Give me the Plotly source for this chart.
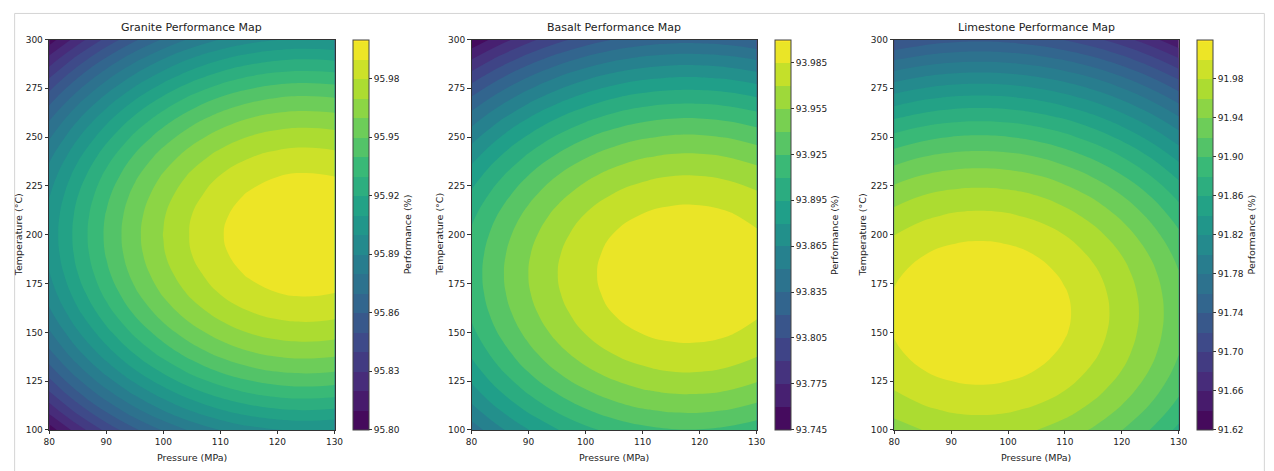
import plotly.graph_objects as go

# ---- data (grid samples of each map) ----
pressure = [80, 85, 90, 95, 100, 105, 110, 115, 120, 125, 130]          # MPa
temperature = [100, 110, 120, 130, 140, 150, 160, 170, 180, 190, 200,
               210, 220, 230, 240, 250, 260, 270, 280, 290, 300]         # degC

granite_z = [
    [95.8046, 95.8248, 95.8427, 95.8582, 95.8712, 95.8820, 95.8903, 95.8962, 95.8998, 95.9010, 95.8998],
    [95.8234, 95.8436, 95.8615, 95.8770, 95.8900, 95.9008, 95.9091, 95.9150, 95.9186, 95.9198, 95.9186],
    [95.8402, 95.8604, 95.8783, 95.8938, 95.9068, 95.9176, 95.9259, 95.9318, 95.9354, 95.9366, 95.9354],
    [95.8551, 95.8753, 95.8932, 95.9087, 95.9217, 95.9325, 95.9408, 95.9467, 95.9503, 95.9515, 95.9503],
    [95.8680, 95.8882, 95.9061, 95.9216, 95.9346, 95.9454, 95.9537, 95.9596, 95.9632, 95.9644, 95.9632],
    [95.8788, 95.8990, 95.9169, 95.9324, 95.9454, 95.9562, 95.9645, 95.9704, 95.9740, 95.9752, 95.9740],
    [95.8878, 95.9080, 95.9259, 95.9414, 95.9544, 95.9652, 95.9735, 95.9794, 95.9830, 95.9842, 95.9830],
    [95.8947, 95.9149, 95.9328, 95.9483, 95.9613, 95.9721, 95.9804, 95.9863, 95.9899, 95.9911, 95.9899],
    [95.8996, 95.9198, 95.9377, 95.9532, 95.9662, 95.9770, 95.9853, 95.9912, 95.9948, 95.9960, 95.9948],
    [95.9026, 95.9228, 95.9407, 95.9562, 95.9692, 95.9800, 95.9883, 95.9942, 95.9978, 95.9990, 95.9978],
    [95.9036, 95.9238, 95.9417, 95.9572, 95.9702, 95.9810, 95.9893, 95.9952, 95.9988, 95.9998, 95.9988],
    [95.9026, 95.9228, 95.9407, 95.9562, 95.9692, 95.9800, 95.9883, 95.9942, 95.9978, 95.9990, 95.9978],
    [95.8996, 95.9198, 95.9377, 95.9532, 95.9662, 95.9770, 95.9853, 95.9912, 95.9948, 95.9960, 95.9948],
    [95.8947, 95.9149, 95.9328, 95.9483, 95.9613, 95.9721, 95.9804, 95.9863, 95.9899, 95.9911, 95.9899],
    [95.8878, 95.9080, 95.9259, 95.9414, 95.9544, 95.9652, 95.9735, 95.9794, 95.9830, 95.9842, 95.9830],
    [95.8788, 95.8990, 95.9169, 95.9324, 95.9454, 95.9562, 95.9645, 95.9704, 95.9740, 95.9752, 95.9740],
    [95.8680, 95.8882, 95.9061, 95.9216, 95.9346, 95.9454, 95.9537, 95.9596, 95.9632, 95.9644, 95.9632],
    [95.8551, 95.8753, 95.8932, 95.9087, 95.9217, 95.9325, 95.9408, 95.9467, 95.9503, 95.9515, 95.9503],
    [95.8402, 95.8604, 95.8783, 95.8938, 95.9068, 95.9176, 95.9259, 95.9318, 95.9354, 95.9366, 95.9354],
    [95.8234, 95.8436, 95.8615, 95.8770, 95.8900, 95.9008, 95.9091, 95.9150, 95.9186, 95.9198, 95.9186],
    [95.8046, 95.8248, 95.8427, 95.8582, 95.8712, 95.8820, 95.8903, 95.8962, 95.8998, 95.9010, 95.8998],
]

basalt_z = [
    [93.8418, 93.8621, 93.8796, 93.8942, 93.9059, 93.9148, 93.9208, 93.9240, 93.9243, 93.9217, 93.9162],
    [93.8595, 93.8798, 93.8973, 93.9119, 93.9236, 93.9325, 93.9385, 93.9417, 93.9420, 93.9394, 93.9339],
    [93.8748, 93.8951, 93.9126, 93.9272, 93.9389, 93.9478, 93.9538, 93.9570, 93.9573, 93.9547, 93.9492],
    [93.8878, 93.9081, 93.9256, 93.9402, 93.9519, 93.9608, 93.9668, 93.9700, 93.9703, 93.9677, 93.9622],
    [93.8984, 93.9187, 93.9362, 93.9508, 93.9625, 93.9714, 93.9774, 93.9806, 93.9809, 93.9783, 93.9728],
    [93.9067, 93.9270, 93.9445, 93.9591, 93.9708, 93.9797, 93.9857, 93.9889, 93.9892, 93.9866, 93.9811],
    [93.9126, 93.9329, 93.9504, 93.9650, 93.9767, 93.9856, 93.9916, 93.9948, 93.9951, 93.9925, 93.9870],
    [93.9161, 93.9364, 93.9539, 93.9685, 93.9802, 93.9891, 93.9951, 93.9983, 93.9986, 93.9960, 93.9905],
    [93.9173, 93.9376, 93.9551, 93.9697, 93.9814, 93.9903, 93.9963, 93.9995, 93.9998, 93.9972, 93.9917],
    [93.9161, 93.9364, 93.9539, 93.9685, 93.9802, 93.9891, 93.9951, 93.9983, 93.9986, 93.9960, 93.9905],
    [93.9126, 93.9329, 93.9504, 93.9650, 93.9767, 93.9856, 93.9916, 93.9948, 93.9951, 93.9925, 93.9870],
    [93.9067, 93.9270, 93.9445, 93.9591, 93.9708, 93.9797, 93.9857, 93.9889, 93.9892, 93.9866, 93.9811],
    [93.8984, 93.9187, 93.9362, 93.9508, 93.9625, 93.9714, 93.9774, 93.9806, 93.9809, 93.9783, 93.9728],
    [93.8878, 93.9081, 93.9256, 93.9402, 93.9519, 93.9608, 93.9668, 93.9700, 93.9703, 93.9677, 93.9622],
    [93.8748, 93.8951, 93.9126, 93.9272, 93.9389, 93.9478, 93.9538, 93.9570, 93.9573, 93.9547, 93.9492],
    [93.8595, 93.8798, 93.8973, 93.9119, 93.9236, 93.9325, 93.9385, 93.9417, 93.9420, 93.9394, 93.9339],
    [93.8418, 93.8621, 93.8796, 93.8942, 93.9059, 93.9148, 93.9208, 93.9240, 93.9243, 93.9217, 93.9162],
    [93.8217, 93.8420, 93.8595, 93.8741, 93.8858, 93.8947, 93.9007, 93.9039, 93.9042, 93.9016, 93.8961],
    [93.7993, 93.8196, 93.8371, 93.8517, 93.8634, 93.8723, 93.8783, 93.8815, 93.8818, 93.8792, 93.8737],
    [93.7745, 93.7948, 93.8123, 93.8269, 93.8386, 93.8475, 93.8535, 93.8567, 93.8570, 93.8544, 93.8489],
    [93.7474, 93.7677, 93.7852, 93.7998, 93.8115, 93.8204, 93.8264, 93.8296, 93.8299, 93.8273, 93.8218],
]

limestone_z = [
    [91.9507, 91.9602, 91.9659, 91.9678, 91.9659, 91.9602, 91.9507, 91.9375, 91.9204, 91.8996, 91.8749],
    [91.9666, 91.9761, 91.9818, 91.9837, 91.9818, 91.9761, 91.9666, 91.9534, 91.9363, 91.9155, 91.8908],
    [91.9797, 91.9892, 91.9949, 91.9968, 91.9949, 91.9892, 91.9797, 91.9665, 91.9494, 91.9286, 91.9039],
    [91.9898, 91.9993, 92.0050, 92.0069, 92.0050, 91.9993, 91.9898, 91.9766, 91.9595, 91.9387, 91.9140],
    [91.9971, 92.0066, 92.0123, 92.0142, 92.0123, 92.0066, 91.9971, 91.9839, 91.9668, 91.9460, 91.9213],
    [92.0014, 92.0109, 92.0166, 92.0185, 92.0166, 92.0109, 92.0014, 91.9882, 91.9711, 91.9503, 91.9256],
    [92.0029, 92.0124, 92.0181, 92.0198, 92.0181, 92.0124, 92.0029, 91.9897, 91.9726, 91.9518, 91.9271],
    [92.0014, 92.0109, 92.0166, 92.0185, 92.0166, 92.0109, 92.0014, 91.9882, 91.9711, 91.9503, 91.9256],
    [91.9971, 92.0066, 92.0123, 92.0142, 92.0123, 92.0066, 91.9971, 91.9839, 91.9668, 91.9460, 91.9213],
    [91.9898, 91.9993, 92.0050, 92.0069, 92.0050, 91.9993, 91.9898, 91.9766, 91.9595, 91.9387, 91.9140],
    [91.9797, 91.9892, 91.9949, 91.9968, 91.9949, 91.9892, 91.9797, 91.9665, 91.9494, 91.9286, 91.9039],
    [91.9666, 91.9761, 91.9818, 91.9837, 91.9818, 91.9761, 91.9666, 91.9534, 91.9363, 91.9155, 91.8908],
    [91.9507, 91.9602, 91.9659, 91.9678, 91.9659, 91.9602, 91.9507, 91.9375, 91.9204, 91.8996, 91.8749],
    [91.9318, 91.9413, 91.9470, 91.9489, 91.9470, 91.9413, 91.9318, 91.9186, 91.9015, 91.8807, 91.8560],
    [91.9101, 91.9196, 91.9253, 91.9272, 91.9253, 91.9196, 91.9101, 91.8969, 91.8798, 91.8590, 91.8343],
    [91.8854, 91.8949, 91.9006, 91.9025, 91.9006, 91.8949, 91.8854, 91.8722, 91.8551, 91.8343, 91.8096],
    [91.8579, 91.8674, 91.8731, 91.8750, 91.8731, 91.8674, 91.8579, 91.8447, 91.8276, 91.8068, 91.7821],
    [91.8274, 91.8369, 91.8426, 91.8445, 91.8426, 91.8369, 91.8274, 91.8142, 91.7971, 91.7763, 91.7516],
    [91.7941, 91.8036, 91.8093, 91.8112, 91.8093, 91.8036, 91.7941, 91.7809, 91.7638, 91.7430, 91.7183],
    [91.7578, 91.7673, 91.7730, 91.7749, 91.7730, 91.7673, 91.7578, 91.7446, 91.7275, 91.7067, 91.6820],
    [91.7187, 91.7282, 91.7339, 91.7358, 91.7339, 91.7282, 91.7187, 91.7055, 91.6884, 91.6676, 91.6429],
]

titles = ["Granite Performance Map", "Basalt Performance Map", "Limestone Performance Map"]

# contour levels (start, end, step) as shown on the colour bars
granite_levels = [95.80, 96.00, 0.01]
basalt_levels = [93.745, 94.000, 0.015]
limestone_levels = [91.62, 92.02, 0.02]

granite_ticks = [95.80, 95.83, 95.86, 95.89, 95.92, 95.95, 95.98]
basalt_ticks = [93.745, 93.775, 93.805, 93.835, 93.865, 93.895, 93.925, 93.955, 93.985]
limestone_ticks = [91.62, 91.66, 91.70, 91.74, 91.78, 91.82, 91.86, 91.90, 91.94, 91.98]

x_ticks = [80, 90, 100, 110, 120, 130]
y_ticks = [100, 125, 150, 175, 200, 225, 250, 275, 300]

# ---- layout geometry ----
OFF = 8                       # page body margin
W, H = 1274 - OFF, 471 - OFF
S_X, S_Y = 0.988, 0.979       # compensation for the observed photo scaling
CX, CY = 637.0, 235.0
FONT = "DejaVu Sans"
plot_x = [(50.7, 336.0), (473.0, 758.0), (895.7, 1180.0)]
cbar_x = [354.0, 776.0, 1198.3]
cbar_label_x = [409.0, 836.5, 1253.0]
ylabel_x = [20.0, 441.5, 864.0]
plot_top, plot_bot = 39.3, 430.0


def px(x):
    wx = CX + (x - CX) / S_X
    return (wx - OFF) / W


def py(y):
    wy = CY + (y - CY) / S_Y
    return (H - (wy - OFF)) / H


fig = go.Figure()

datasets = [
    (granite_z, granite_levels, granite_ticks, "{:.2f}"),
    (basalt_z, basalt_levels, basalt_ticks, "{:.3f}"),
    (limestone_z, limestone_levels, limestone_ticks, "{:.2f}"),
]

ydom = [py(plot_bot), py(plot_top)]
annotations = []
for i, (z, lev, ticks, fmt) in enumerate(datasets):
    start, end, step = lev
    suffix = "" if i == 0 else str(i + 1)
    fig.add_trace(go.Contour(
        x=pressure, y=temperature, z=z,
        xaxis="x" + suffix, yaxis="y" + suffix,
        colorscale="Viridis",
        zmin=start, zmax=end + step * 1e-6,
        autocontour=False,
        contours=dict(start=start, end=end, size=step, coloring="fill", showlines=False),
        line=dict(width=0, smoothing=1.3),
        colorbar=dict(
            x=px(cbar_x[i]), xanchor="left", xref="paper",
            y=(ydom[0] + ydom[1]) / 2, yanchor="middle",
            len=ydom[1] - ydom[0], lenmode="fraction",
            thickness=16, thicknessmode="pixels",
            outlinewidth=1, outlinecolor="#444",
            tickvals=ticks, ticktext=[fmt.format(t) for t in ticks],
            ticks="outside", ticklen=3, tickcolor="#333",
            tickfont=dict(family=FONT, size=9, color="#222"),
            xpad=0, ypad=0,
        ),
        hoverinfo="skip",
    ))
    xd = [px(plot_x[i][0]), px(plot_x[i][1])]
    axis_common = dict(
        showline=True, mirror=True, linecolor="#333", linewidth=1,
        ticks="outside", ticklen=3.5, tickcolor="#333",
        tickfont=dict(family=FONT, size=9, color="#222"),
        showgrid=False, zeroline=False,
    )
    fig.layout["xaxis" + suffix] = dict(
        domain=xd, range=[80, 130], tickvals=x_ticks,
        anchor="y" + suffix, **axis_common)
    fig.layout["yaxis" + suffix] = dict(
        domain=ydom, range=[100, 300], tickvals=y_ticks,
        anchor="x" + suffix, **axis_common)

    cx = (plot_x[i][0] + plot_x[i][1]) / 2
    annotations.append(dict(text=titles[i], x=px(cx), y=py(27), xref="paper", yref="paper",
                            showarrow=False, xanchor="center", yanchor="middle",
                            font=dict(family=FONT, size=11, color="#222")))
    annotations.append(dict(text="Pressure (MPa)", x=px(cx), y=py(458), xref="paper", yref="paper",
                            showarrow=False, xanchor="center", yanchor="middle",
                            font=dict(family=FONT, size=9.5, color="#222")))
    annotations.append(dict(text="Temperature (°C)", x=px(ylabel_x[i]), y=py(234.7), xref="paper",
                            yref="paper", showarrow=False, textangle=-90,
                            xanchor="center", yanchor="middle",
                            font=dict(family=FONT, size=9.5, color="#222")))
    annotations.append(dict(text="Performance (%)", x=px(cbar_label_x[i]), y=py(234.7), xref="paper",
                            yref="paper", showarrow=False, textangle=-90,
                            xanchor="center", yanchor="middle",
                            font=dict(family=FONT, size=9.5, color="#222")))

fig.update_layout(
    width=W, height=H,
    margin=dict(l=0, r=0, t=0, b=0),
    paper_bgcolor="white", plot_bgcolor="white",
    showlegend=False,
    annotations=annotations,
    shapes=[dict(type="rect", xref="paper", yref="paper",
                 x0=0.0005, x1=0.9995, y0=-0.05, y1=0.999,
                 line=dict(color="#d4d4d4", width=1), fillcolor="rgba(0,0,0,0)", layer="below")],
)

fig.write_html("out.html")
